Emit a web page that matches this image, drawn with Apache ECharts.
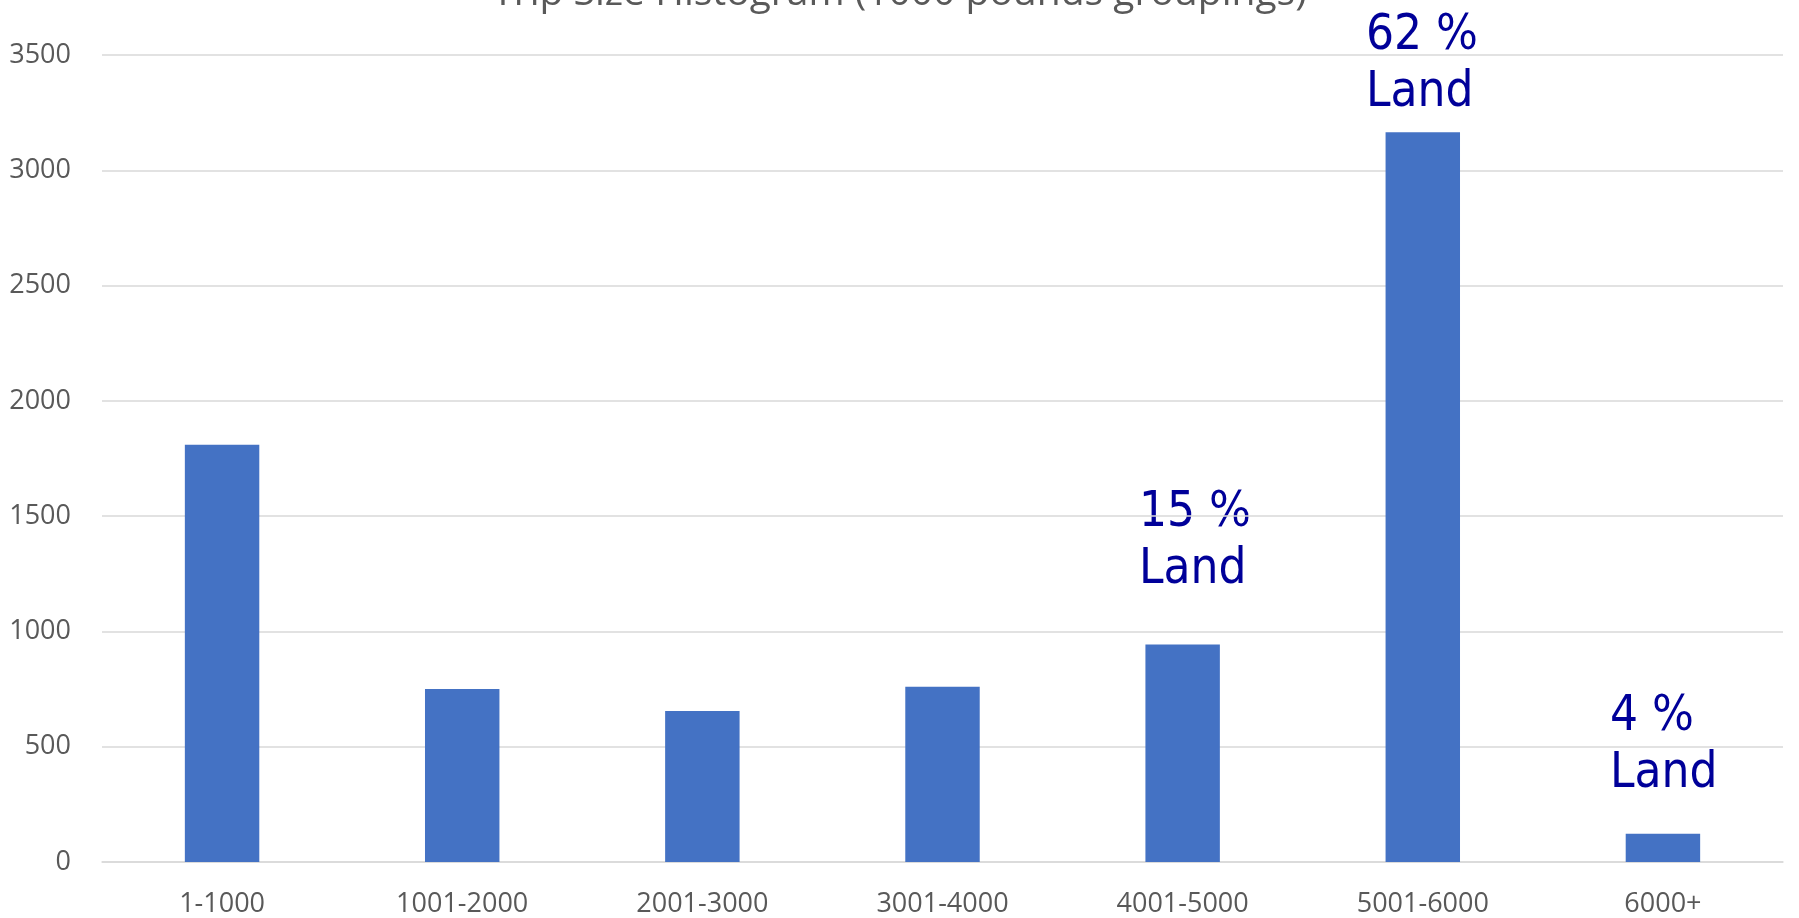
<!DOCTYPE html>
<html>
<head>
<meta charset="utf-8">
<script src="https://cdn.jsdelivr.net/npm/echarts@6/dist/echarts.min.js"></script>
<style>
  html, body { margin: 0; padding: 0; background: #ffffff; }
  #chart { width: 1799px; height: 918px; }
</style>
</head>
<body>
<div id="chart"></div>
<script>
const titleText = 'Trip Size Histogram (1000 pounds groupings)';
const categories = ['1-1000', '1001-2000', '2001-3000', '3001-4000', '4001-5000', '5001-6000', '6000+'];
const tripCounts = [1810, 750, 655, 760, 943, 3165, 122];
const yTicks = [0, 500, 1000, 1500, 2000, 2500, 3000, 3500];
const annotations = [
  { text: '62 %\nLand', left: 1366, top: 8 },
  { text: '15 %\nLand', left: 1139, top: 485 },
  { text: '4 %\nLand', left: 1610, top: 689 }
];

const chart = echarts.init(document.getElementById('chart'), null, { renderer: 'canvas' });

const graphics = [
  {
    type: 'text',
    left: 'center',
    top: -26,
    style: {
      text: titleText,
      font: '39px "Open Sans"',
      fill: '#595959',
      textAlign: 'center'
    }
  }
].concat(annotations.map(a => ({
  type: 'text',
  left: a.left,
  top: a.top,
  style: {
    text: a.text,
    font: '49px "DejaVu Sans Condensed", "DejaVu Sans"',
    lineHeight: 57,
    fill: '#000099',
    textAlign: 'left'
  }
})));

chart.setOption({
  animation: false,
  backgroundColor: '#ffffff',
  grid: { left: 102, right: 16, top: 55, bottom: 54, containLabel: false },
  xAxis: {
    type: 'category',
    data: categories,
    axisLine: { show: true, lineStyle: { color: '#d9d9d9', width: 1.5 } },
    axisTick: { show: false },
    axisLabel: { color: '#595959', fontFamily: 'Open Sans', fontSize: 27, margin: 29 }
  },
  yAxis: {
    type: 'value',
    min: yTicks[0],
    max: yTicks[yTicks.length - 1],
    interval: yTicks[1] - yTicks[0],
    axisLine: { show: false },
    axisTick: { show: false },
    splitLine: { lineStyle: { color: '#d9d9d9', width: 1.5 } },
    axisLabel: {
      color: '#595959', fontFamily: 'Open Sans', fontSize: 27, margin: 31,
      formatter: v => String(v)
    }
  },
  series: [{
    type: 'bar',
    data: tripCounts,
    barWidth: '31%',
    itemStyle: { color: '#4472C4' }
  }],
  graphic: graphics
});
</script>
</body>
</html>
